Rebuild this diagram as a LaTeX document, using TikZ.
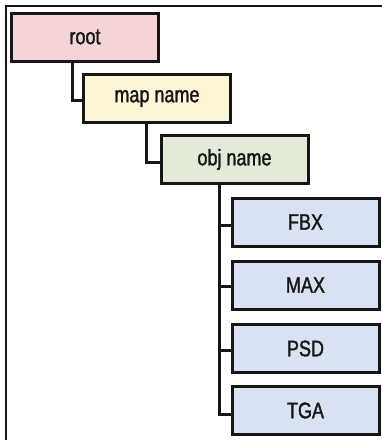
\documentclass[tikz,border=0pt]{standalone}
\usepackage{fontspec}
\setmainfont{Liberation Sans}[FakeStretch=0.8, FakeBold=1.4]
\definecolor{inkc}{HTML}{161616}
\definecolor{rootfill}{HTML}{F5D4D7}
\definecolor{mapfill}{HTML}{FDF5D6}
\definecolor{objfill}{HTML}{E3EBD8}
\definecolor{filefill}{HTML}{D8E2F3}
\begin{document}
\begin{tikzpicture}[x=1pt,y=-1pt,
  box/.style={draw=inkc, line width=3pt, minimum width=147pt, minimum height=48pt,
    inner sep=0pt, font=\fontsize{22.5}{24}\selectfont, text=inkc},
  link/.style={draw=inkc, line width=3pt}]
\useasboundingbox (0,0) rectangle (381,440);
% outer frame
\draw[inkc, line width=2.6pt] (6,445) -- (6,6) -- (390,6);
% tree nodes
\node[box, fill=rootfill] (root) at (85,37) {root};
\node[box, fill=mapfill]  (map)  at (157,98.5) {map name};
\node[box, fill=objfill]  (obj)  at (234.5,159.5) {obj name};
\node[box, fill=filefill] (fbx)  at (305.5,222) {FBX};
\node[box, fill=filefill] (max)  at (305.5,285) {MAX};
\node[box, fill=filefill] (psd)  at (305.5,348.5) {PSD};
\node[box, fill=filefill] (tga)  at (305.5,410.5) {TGA};
% branch origins
\coordinate (r0) at (72,62);
\coordinate (m0) at (146,124);
\coordinate (o0) at (219,185);
% connectors
\draw[link] (r0) |- ([yshift=-2pt]map.west);
\draw[link] (m0) |- ([yshift=-3pt]obj.west);
\draw[link] (o0) |- ([yshift=-4pt]tga.west);
\draw[link] ([yshift=-3pt]o0 |- fbx.west) -- ([yshift=-3pt]fbx.west);
\draw[link] ([yshift=-1pt]o0 |- max.west) -- ([yshift=-1pt]max.west);
\draw[link] ([yshift=-1.5pt]o0 |- psd.west) -- ([yshift=-1.5pt]psd.west);
\end{tikzpicture}
\end{document}
